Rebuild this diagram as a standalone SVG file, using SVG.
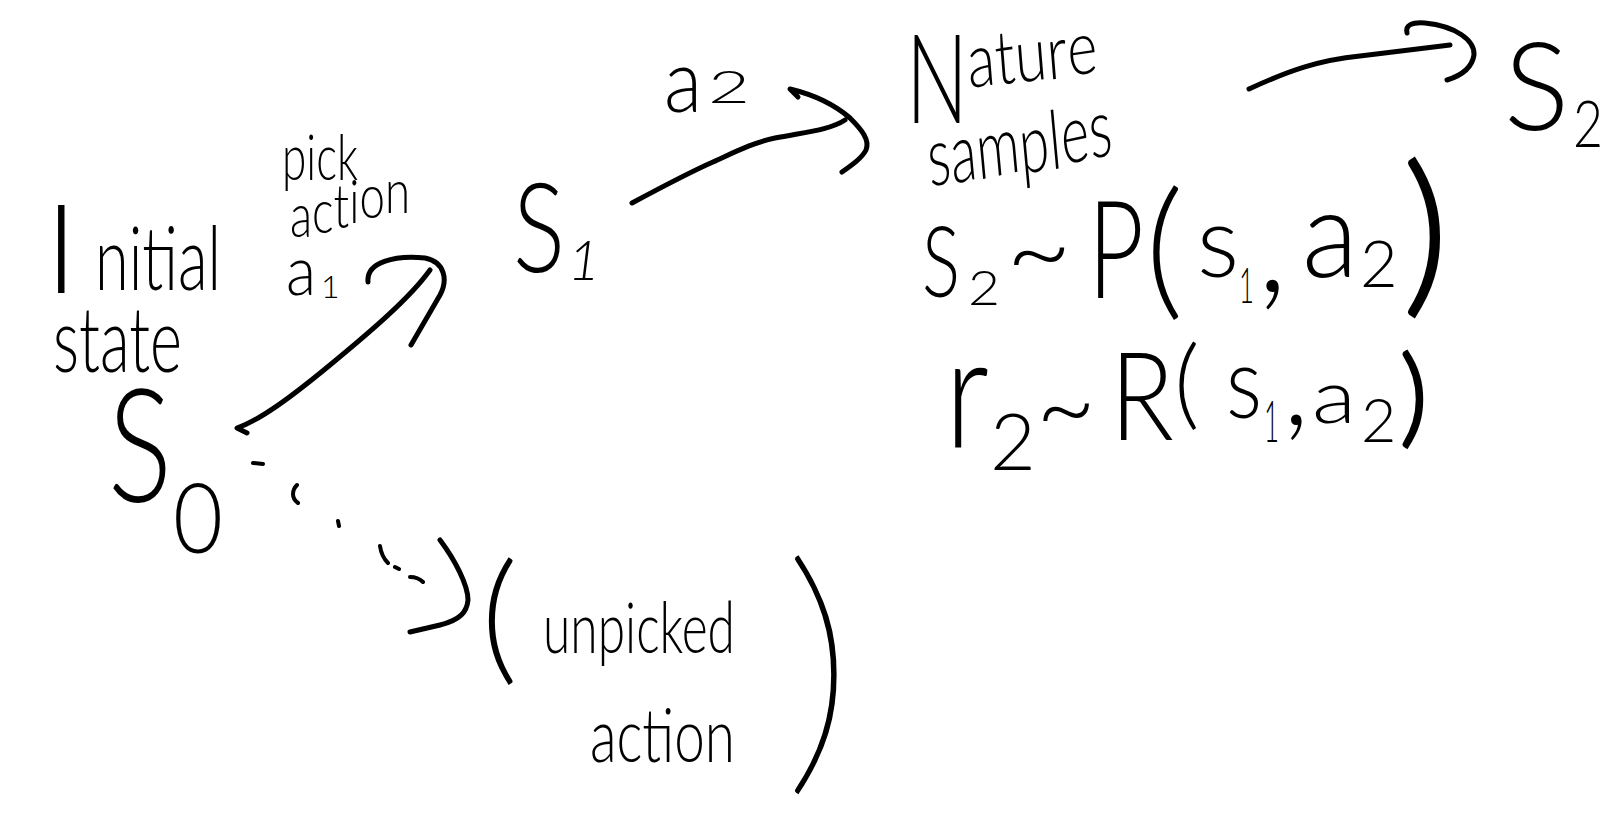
<svg xmlns="http://www.w3.org/2000/svg" width="1611" height="829" viewBox="0 0 1611 829">
<style>
text{font-family:Lato,Roboto,"Liberation Sans",sans-serif;font-weight:300;fill:#000;}
.thin{font-weight:100;stroke:#000;stroke-width:2.5;}
.heavy{stroke:#000;stroke-width:3;}
.c{fill:none;stroke:#000;stroke-width:5;stroke-linecap:round;stroke-linejoin:round;}
.d{fill:none;stroke:#000;stroke-width:4;stroke-linecap:round;}
</style>
<rect width="1611" height="829" fill="#fff"/>
<g id="node-s0">
<text><tspan x="45" y="293" font-size="125">I</tspan><tspan x="95" y="290" font-size="88" textLength="126" lengthAdjust="spacingAndGlyphs">nitial</tspan></text>
<text x="53" y="372" font-size="90" textLength="129" lengthAdjust="spacingAndGlyphs">state</text>
<text><tspan x="108" y="502" font-size="158" textLength="64" lengthAdjust="spacingAndGlyphs">S</tspan><tspan x="173" y="553" font-size="97" textLength="50" lengthAdjust="spacingAndGlyphs">0</tspan></text>
</g>
<g id="label-a1">
<text x="282" y="180" font-size="63" textLength="76" lengthAdjust="spacingAndGlyphs">pick</text>
<text x="290" y="237 233 228 223 218 213" font-size="62" textLength="120" lengthAdjust="spacingAndGlyphs">action</text>
<text><tspan x="286" y="295" font-size="69" textLength="30" lengthAdjust="spacingAndGlyphs">a</tspan><tspan x="321" y="298" font-size="32">1</tspan></text>
</g>
<g id="node-s1">
<text><tspan x="513" y="272" font-size="124" textLength="52" lengthAdjust="spacingAndGlyphs">S</tspan><tspan x="568" y="280" font-size="55" font-style="italic">1</tspan></text>
</g>
<g id="label-a2">
<text><tspan x="664" y="112" font-size="89" textLength="38" lengthAdjust="spacingAndGlyphs">a</tspan><tspan x="708" y="103" font-size="46" textLength="42" lengthAdjust="spacingAndGlyphs">2</tspan></text>
</g>
<g id="node-nature">
<text><tspan x="906" y="123" font-size="124" textLength="62" lengthAdjust="spacingAndGlyphs">N</tspan><tspan x="969" y="88 85 83 80 76" font-size="75" rotate="-6" textLength="130" lengthAdjust="spacingAndGlyphs">ature</tspan></text>
<text x="930" y="187 184 180 175 170 165 159" font-size="82" rotate="-8" textLength="184" lengthAdjust="spacingAndGlyphs">samples</text>
<text><tspan x="922" y="297" font-size="98" textLength="38" lengthAdjust="spacingAndGlyphs">S</tspan><tspan x="968" y="305" font-size="48" textLength="32" lengthAdjust="spacingAndGlyphs">2</tspan><tspan x="1006" y="289" font-size="110" textLength="66" lengthAdjust="spacingAndGlyphs">~</tspan><tspan x="1088" y="298" font-size="136" textLength="56" lengthAdjust="spacingAndGlyphs">P</tspan><tspan x="1145" y="300" font-size="150">(</tspan><tspan x="1197" y="277" font-size="99">s</tspan><tspan x="1239" y="303" font-size="50" textLength="15" lengthAdjust="spacingAndGlyphs">1</tspan><tspan x="1257" y="292" font-size="140">,</tspan><tspan x="1302" y="277" font-size="122" textLength="56" lengthAdjust="spacingAndGlyphs">a</tspan><tspan x="1360" y="287" font-size="65">2</tspan><tspan class="heavy" x="1403" y="293" font-size="175">)</tspan></text>
<text><tspan x="945" y="448" font-size="158" textLength="44" lengthAdjust="spacingAndGlyphs">r</tspan><tspan x="990" y="470" font-size="79">2</tspan><tspan x="1036" y="445" font-size="110" textLength="60" lengthAdjust="spacingAndGlyphs">~</tspan><tspan x="1110" y="440" font-size="123" textLength="64" lengthAdjust="spacingAndGlyphs">R</tspan><tspan x="1174" y="417" font-size="99">(</tspan><tspan x="1226" y="418" font-size="99" textLength="36" lengthAdjust="spacingAndGlyphs">s</tspan><tspan x="1264" y="442" font-size="58" textLength="15" lengthAdjust="spacingAndGlyphs">1</tspan><tspan x="1283" y="425" font-size="120">,</tspan><tspan x="1312" y="423" font-size="75" textLength="44" lengthAdjust="spacingAndGlyphs">a</tspan><tspan x="1361" y="442" font-size="61">2</tspan><tspan class="heavy" x="1400" y="433" font-size="107">)</tspan></text>
</g>
<g id="node-s2">
<text><tspan x="1504" y="130" font-size="122">S</tspan><tspan x="1573" y="147" font-size="65" textLength="30" lengthAdjust="spacingAndGlyphs">2</tspan></text>
</g>
<g id="node-unpicked">
<text><tspan x="481" y="666" font-size="143">(</tspan><tspan x="543" y="653" font-size="70" textLength="192" lengthAdjust="spacingAndGlyphs">unpicked</tspan></text>
<text x="590" y="762" font-size="75" textLength="145" lengthAdjust="spacingAndGlyphs">action</text>
<text class="thin" x="785" y="760" font-size="270">)</text>
</g>
<g id="connectors">
<path class="c" d="M247,433 L237,428 C260,420 290,398 330,365 C370,332 410,298 430,270"/>
<path class="c" d="M368,282 C366,262 395,255 425,258 C445,262 448,280 440,295 L411,345"/>
<path class="c" d="M632,203 C660,188 690,172 713,162 C735,152 752,143 775,138 C805,132 830,130 845,120"/>
<path class="c" d="M798,97 L790,89 C815,95 835,105 850,118 C862,130 870,140 866,150 C862,158 852,165 842,172"/>
<path class="c" d="M1249,89 C1290,70 1320,60 1360,56 L1450,45"/>
<path class="c" d="M1407,33 C1405,25 1412,22 1425,23 C1455,26 1475,40 1474,55 C1472,68 1460,76 1447,80"/>
<path class="d" d="M253,463 L263,464 M297,485 C292,490 291,498 298,503 M338,521 L339,526 M380,546 C381,553 383,558 388,563 M395,567 L399,569 M410,577 C416,577 420,579 423,582"/>
<path class="c" d="M440,540 C455,560 468,585 468,600 C467,612 460,620 440,625 L410,632"/>
</g>
</svg>
